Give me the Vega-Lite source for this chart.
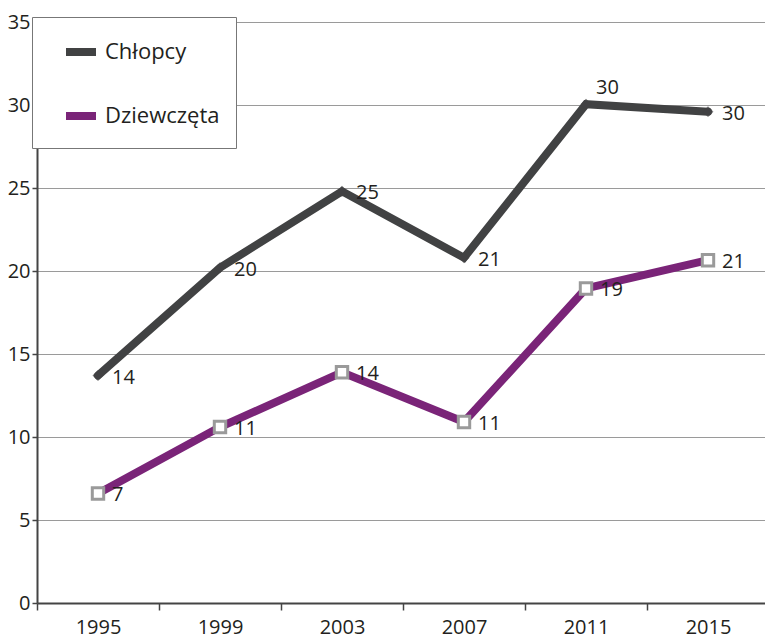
{
  "$schema": "https://vega.github.io/schema/vega-lite/v6.json",
  "width": 728,
  "height": 581,
  "autosize": {"type": "none"},
  "padding": {"left": 37, "top": 22, "right": 0, "bottom": 35},
  "background": "white",
  "config": {
    "font": "Open Sans",
    "view": {"stroke": null},
    "axis": {"labelFont": "Open Sans", "labelFontSize": 20, "labelColor": "#231f20", "domainColor": "#444444", "tickColor": "#444444"}
  },
  "data": {
    "values": [
      {"rok": "1995", "seria": "Chłopcy", "wartosc": 13.7},
      {"rok": "1999", "seria": "Chłopcy", "wartosc": 20.2},
      {"rok": "2003", "seria": "Chłopcy", "wartosc": 24.8},
      {"rok": "2007", "seria": "Chłopcy", "wartosc": 20.8},
      {"rok": "2011", "seria": "Chłopcy", "wartosc": 30.05},
      {"rok": "2015", "seria": "Chłopcy", "wartosc": 29.6},
      {"rok": "1995", "seria": "Dziewczęta", "wartosc": 6.6},
      {"rok": "1999", "seria": "Dziewczęta", "wartosc": 10.6},
      {"rok": "2003", "seria": "Dziewczęta", "wartosc": 13.9},
      {"rok": "2007", "seria": "Dziewczęta", "wartosc": 10.9},
      {"rok": "2011", "seria": "Dziewczęta", "wartosc": 18.95},
      {"rok": "2015", "seria": "Dziewczęta", "wartosc": 20.65}
    ]
  },
  "encoding": {
    "x": {
      "field": "rok", "type": "ordinal", "bandPosition": 0.5,
      "scale": {"type": "band", "paddingInner": 0, "paddingOuter": 0, "range": [0, 732]},
      "axis": {"title": null, "labelAngle": 0, "tickBand": "extent", "tickSize": 7, "tickWidth": 1.5, "domainWidth": 2, "labelPadding": 7, "grid": false}
    },
    "y": {
      "field": "wartosc", "type": "quantitative",
      "scale": {"domain": [0, 35], "nice": false},
      "axis": {"title": null, "values": [0, 5, 10, 15, 20, 25, 30, 35], "tickSize": 5, "tickWidth": 1.5, "domainWidth": 2, "labelPadding": 2, "grid": true, "gridColor": "#9a9a9a", "gridWidth": 1}
    }
  },
  "layer": [
    {
      "mark": {"type": "line", "strokeWidth": 8, "strokeJoin": "miter", "strokeCap": "round"},
      "encoding": {
        "color": {
          "field": "seria", "type": "nominal",
          "scale": {"domain": ["Chłopcy", "Dziewczęta"], "range": ["#414243", "#7a2478"]},
          "legend": {
            "title": null, "orient": "none", "legendX": -5, "legendY": -5,
            "fillColor": "white", "strokeColor": "#777777", "padding": 16,
            "rowPadding": 29, "symbolOffset": 14, "labelOffset": 5,
            "symbolType": "stroke", "symbolSize": 900, "symbolStrokeWidth": 8,
            "labelFont": "Open Sans", "labelFontSize": 22, "labelColor": "#231f20"
          }
        }
      }
    },
    {
      "transform": [{"filter": "datum.seria === 'Chłopcy'"}],
      "mark": {"type": "point", "shape": "diamond", "filled": true, "size": 120, "color": "#414243"}
    },
    {
      "transform": [{"filter": "datum.seria === 'Dziewczęta'"}],
      "mark": {"type": "point", "shape": "square", "filled": true, "size": 130, "fill": "white", "stroke": "#9a9a9a", "strokeWidth": 3, "opacity": 1}
    },
    {
      "transform": [{"filter": "!(datum.seria === 'Chłopcy' && datum.rok === '2011')"}],
      "mark": {"type": "text", "align": "left", "baseline": "middle", "dx": 14, "dy": 2, "fontSize": 20, "font": "Open Sans", "color": "#231f20"},
      "encoding": {"text": {"field": "wartosc", "type": "quantitative", "format": ".0f"}}
    },
    {
      "transform": [{"filter": "datum.seria === 'Chłopcy' && datum.rok === '2011'"}],
      "mark": {"type": "text", "align": "left", "baseline": "middle", "dx": 10, "dy": -16, "fontSize": 20, "font": "Open Sans", "color": "#231f20"},
      "encoding": {"text": {"field": "wartosc", "type": "quantitative", "format": ".0f"}}
    }
  ]
}
